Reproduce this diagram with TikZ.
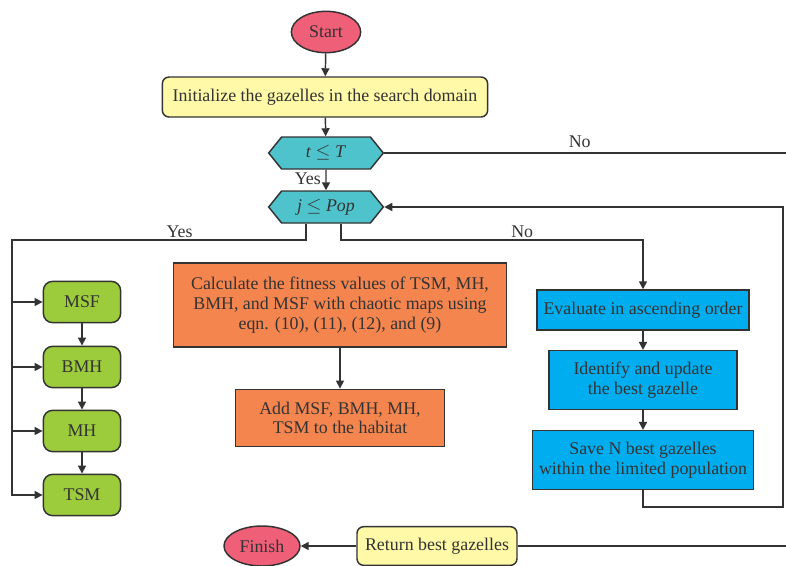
\documentclass[tikz,border=0pt]{standalone}
\usepackage{fontspec}
\setmainfont{Liberation Serif}
\usetikzlibrary{arrows.meta,positioning,shapes.geometric,shapes.symbols}
\definecolor{inkc}{HTML}{333333}
\definecolor{startc}{HTML}{EF5F78}
\definecolor{yelc}{HTML}{FFF9A8}
\definecolor{tealc}{HTML}{4FC3CC}
\definecolor{greenc}{HTML}{9CCB3B}
\definecolor{orangec}{HTML}{F5854E}
\definecolor{bluec}{HTML}{00AEEF}

\begin{document}
\begin{tikzpicture}[
  x=0.75pt, y=-0.75pt,
  font=\fontsize{13.4}{14.8}\selectfont, text=inkc,
  base/.style={draw=inkc, line width=1.1pt, align=center, inner sep=2pt},
  term/.style={base, ellipse, fill=startc, minimum width=52pt, minimum height=31pt},
  yelbox/.style={base, rounded corners=5pt, fill=yelc, minimum height=30pt},
  cond/.style={base, signal, signal to=east and west, signal pointer angle=102,
    fill=tealc, minimum width=86pt, minimum height=24pt, inner sep=0pt},
  opbox/.style={base, rounded corners=7pt, fill=greenc, minimum width=58pt, minimum height=31pt},
  calcbox/.style={base, fill=orangec},
  evbox/.style={base, fill=bluec},
  line/.style={draw=inkc, line width=1.1pt},
  arr/.style={line, -{Triangle[length=6pt, width=6pt]}}
]
\useasboundingbox (0,0) rectangle (786,565);
% top of the loop
\node[term] (start) at (326,32) {Start};
\node[yelbox, minimum width=244pt] (init) at (325,97) {Initialize the gazelles in the search domain};
\node[cond] (tT) at (326,153) {\textit{t} $\le$ \textit{T}};
\node[cond] (jp) at (326,207) {\textit{j} $\le$ \textit{Pop}};
% left branch
\node[opbox] (msf) at (82,302) {MSF};
\node[opbox] (bmh) at (82,367) {BMH};
\node[opbox] (mh) at (82,431) {MH};
\node[opbox] (tsm) at (82,495) {TSM};
% middle
\node[calcbox, minimum width=250pt, minimum height=63pt] (fit) at (340,305)
  {Calculate the fitness values of TSM, MH,\\BMH, and MSF with chaotic maps using\\eqn. (10), (11), (12), and (9)};
\node[calcbox, minimum width=157pt, minimum height=43pt] (add) at (340,418)
  {Add MSF, BMH, MH,\\TSM to the habitat};
% right branch
\node[evbox, minimum width=159pt, minimum height=30pt] (eval) at (643,310) {Evaluate in ascending order};
\node[evbox, minimum width=141pt, minimum height=44pt] (upd) at (643,380) {Identify and update\\the best gazelle};
\node[evbox, minimum width=166pt, minimum height=44pt] (save) at (643,460) {Save N best gazelles\\within the limited population};
% bottom
\node[yelbox, minimum width=120pt, minimum height=29pt] (ret) at (437,546) {Return best gazelles};
\node[term, minimum width=57pt, minimum height=30pt] (fin) at (262,546) {Finish};
% bends
\coordinate (yL) at (306,240);
\coordinate (lft) at (12,240);
\coordinate (nR) at (341,240);
\coordinate (nE) at (643,240);
\coordinate (cR) at (783,507);
\coordinate (tR) at (800,153);
\coordinate (bR) at (800,546);
% connectors
\draw[arr] (start) -- (init);
\draw[arr] (init) -- (tT);
\draw[arr] (tT) -- node[left, pos=0.45]{Yes} (jp);
\draw[line] (tT.east) -- node[above, pos=0.47]{No} (tR) -- (bR) -- (ret.east);
\draw[arr] (ret) -- (fin);
\draw[arr] (jp.south -| yL) -- (yL) -- node[above, pos=0.43, inner sep=1pt]{Yes} (lft) |- (tsm.west);
\draw[arr] (msf.west -| lft) -- (msf.west);
\draw[arr] (bmh.west -| lft) -- (bmh.west);
\draw[arr] (mh.west -| lft) -- (mh.west);
\draw[arr] (msf) -- (bmh);
\draw[arr] (bmh) -- (mh);
\draw[arr] (mh) -- (tsm);
\draw[arr] (jp.south -| nR) -- (nR) -- node[above, pos=0.6, inner sep=1pt]{No} (nE) -- (eval.north);
\draw[arr] (eval) -- (upd);
\draw[arr] (upd) -- (save);
\draw[arr] (save.south) |- (cR) |- (jp.east);
\draw[arr] (fit) -- (add);
\end{tikzpicture}
\end{document}
